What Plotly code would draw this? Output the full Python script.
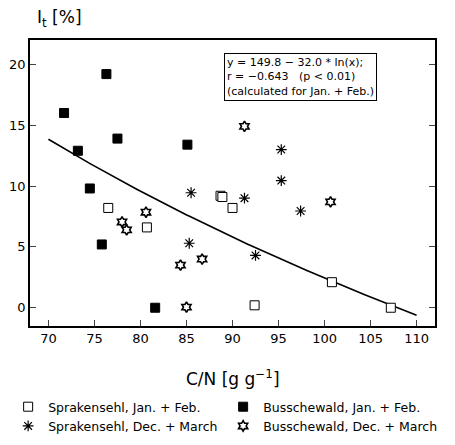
import numpy as np
import plotly.graph_objects as go

# Sprakensehl, Jan. + Feb. (open squares)
spr_jf_x = [76.5, 80.7, 88.7, 88.9, 90.0, 92.4, 100.8, 107.2]
spr_jf_y = [8.2, 6.6, 9.2, 9.1, 8.2, 0.2, 2.1, 0.0]
# Busschewald, Jan. + Feb. (filled squares)
bus_jf_x = [71.7, 76.3, 73.2, 77.5, 85.1, 74.5, 75.8, 81.6]
bus_jf_y = [16.0, 19.2, 12.9, 13.9, 13.4, 9.8, 5.2, 0.0]
# Sprakensehl, Dec. + March (asterisks)
spr_dm_x = [85.5, 85.3, 91.3, 97.4, 92.5, 95.3, 95.3]
spr_dm_y = [9.45, 5.3, 9.0, 7.95, 4.3, 13.0, 10.45]
# Busschewald, Dec. + March (stars of David)
bus_dm_x = [78.0, 78.5, 80.6, 84.35, 86.7, 85.0, 91.3, 100.65]
bus_dm_y = [7.05, 6.4, 7.85, 3.5, 4.0, 0.05, 14.9, 8.7]

# regression y = a + b * ln(x)
fit_a = 149.8
fit_b = -32.0
fit_xmin, fit_xmax = 70, 110

x_ticks = [70, 75, 80, 85, 90, 95, 100, 105, 110]
y_ticks = [0, 5, 10, 15, 20]

FONT = "DejaVu Sans"

fig = go.Figure()
fit_x = np.linspace(fit_xmin, fit_xmax, 200)
fit_y = fit_a + fit_b * np.log(fit_x)
fig.add_trace(go.Scatter(x=fit_x, y=fit_y, mode="lines", line=dict(color="black", width=1.6),
                         showlegend=False, hoverinfo="skip"))

fig.add_trace(go.Scatter(x=spr_jf_x, y=spr_jf_y, mode="markers", name="Sprakensehl, Jan. + Feb.",
                         marker=dict(symbol="square", size=9, color="white",
                                     line=dict(color="black", width=1))))
fig.add_trace(go.Scatter(x=bus_jf_x, y=bus_jf_y, mode="markers", name="Busschewald, Jan. + Feb.",
                         marker=dict(symbol="square", size=9, color="black",
                                     line=dict(color="black", width=1))))
fig.add_trace(go.Scatter(x=spr_dm_x, y=spr_dm_y, mode="markers", name="Sprakensehl, Dec. + March",
                         marker=dict(symbol="asterisk-open", size=9, color="black",
                                     line=dict(color="black", width=1.2))))
fig.add_trace(go.Scatter(x=bus_dm_x, y=bus_dm_y, mode="markers", name="Busschewald, Dec. + March",
                         marker=dict(symbol="hexagram-open", size=8, color="black",
                                     line=dict(color="black", width=1.6))))

fig.update_layout(
    width=447, height=437,
    margin=dict(l=22, r=20, t=32, b=119, autoexpand=False),
    paper_bgcolor="white", plot_bgcolor="white",
    font=dict(family=FONT, color="black", size=13),
    xaxis=dict(range=[68, 112], tickvals=x_ticks, ticks="inside", ticklen=6,
               showline=True, linecolor="black", linewidth=1.5, mirror=True,
               showgrid=False, zeroline=False, tickfont=dict(size=13)),
    yaxis=dict(range=[-1.5, 22], tickvals=y_ticks, ticks="inside", ticklen=6,
               showline=True, linecolor="black", linewidth=1.5, mirror="ticks",
               showgrid=False, zeroline=False, tickfont=dict(size=13)),
    legend=dict(orientation="h", xref="paper", x=-0.054, yref="paper", y=-0.231,
                yanchor="top", xanchor="left", entrywidth=170, entrywidthmode="pixels",
                font=dict(size=12.5, family=FONT), itemwidth=30, tracegroupgap=0,
                bgcolor="rgba(0,0,0,0)"),
    showlegend=True,
)

fig.add_annotation(xref="paper", yref="paper", x=0.479, y=0.955, xanchor="left", yanchor="top",
                   text="y = 149.8 − 32.0 * ln(x);<br>r = −0.643   (p < 0.01)<br>(calculated for Jan. + Feb.)",
                   align="left", showarrow=False, bordercolor="black", borderwidth=1, borderpad=2,
                   bgcolor="white", font=dict(size=11, family=FONT))
fig.add_annotation(xref="paper", yref="paper", x=0.0, y=1.0, xshift=5, yshift=22,
                   xanchor="left", yanchor="middle", showarrow=False,
                   text="I<sub>t</sub> [%]", font=dict(size=17, family=FONT))
fig.add_annotation(xref="paper", yref="paper", x=0.5, y=0, yshift=-52, xanchor="center",
                   yanchor="middle", showarrow=False,
                   text="C/N [g g<sup>−1</sup>]", font=dict(size=17, family=FONT))

fig.write_html("out.html")
